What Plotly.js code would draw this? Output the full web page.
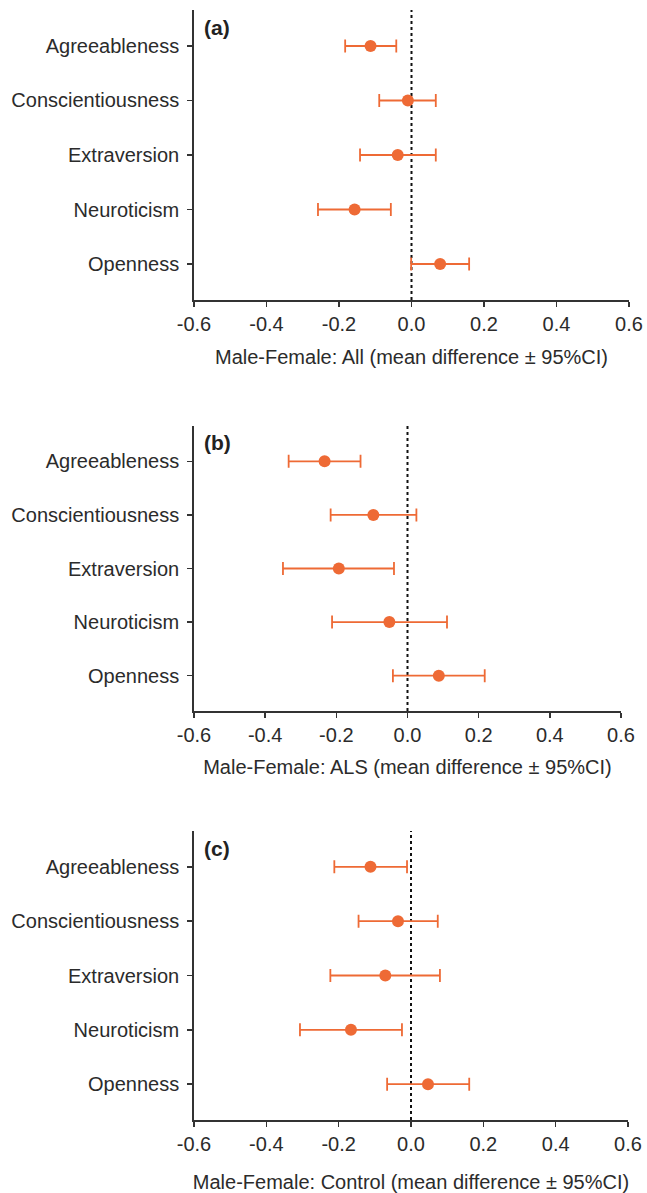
<!DOCTYPE html>
<html>
<head>
<meta charset="utf-8">
<script src="https://cdn.plot.ly/plotly-3.0.1.min.js"></script>
<style>
  html, body { margin: 0; padding: 0; background: #fff; }
  #chart { width: 647px; height: 1193px; }
</style>
</head>
<body>
<div id="chart"></div>
<script>
// ---- Data ----
const traits = ["Agreeableness", "Conscientiousness", "Extraversion", "Neuroticism", "Openness"];

const allMean  = [-0.113, -0.010, -0.038, -0.157, 0.079];
const allLow   = [-0.183, -0.089, -0.142, -0.258, -0.001];
const allHigh  = [-0.042, 0.067, 0.067, -0.057, 0.159];

const alsMean  = [-0.233, -0.096, -0.193, -0.051, 0.088];
const alsLow   = [-0.334, -0.216, -0.350, -0.212, -0.041];
const alsHigh  = [-0.132, 0.025, -0.038, 0.111, 0.217];

const ctlMean  = [-0.112, -0.036, -0.071, -0.166, 0.047];
const ctlLow   = [-0.212, -0.145, -0.223, -0.307, -0.066];
const ctlHigh  = [-0.011, 0.074, 0.080, -0.025, 0.161];

const xTicks = [-0.6, -0.4, -0.2, 0.0, 0.2, 0.4, 0.6];
const xTickText = ["-0.6", "-0.4", "-0.2", "0.0", "0.2", "0.4", "0.6"];

const panelLabels = ["(a)", "(b)", "(c)"];
const axisTitles = [
  "Male-Female: All (mean difference \u00b1 95%CI)",
  "Male-Female: ALS (mean difference \u00b1 95%CI)",
  "Male-Female: Control (mean difference \u00b1 95%CI)"
];

// ---- Styling ----
const ORANGE = "#EE6A35";
const AXIS = "#333333";
const TEXT = "#2b2b2b";
const FONT = "Liberation Sans, Arial, Helvetica, sans-serif";

const W = 647, H = 1193;
const panels = [
  {mean: allMean, low: allLow, high: allHigh, x0: 194, x1: 629, y0: 10, y1: 300, standoff: 16},
  {mean: alsMean, low: alsLow, high: alsHigh, x0: 194, x1: 621, y0: 426, y1: 711, standoff: 15},
  {mean: ctlMean, low: ctlLow, high: ctlHigh, x0: 194, x1: 628, y0: 831, y1: 1120, standoff: 21}
];

const data = [];
const layout = {
  width: W, height: H,
  margin: {l: 0, r: 0, t: 0, b: 0},
  paper_bgcolor: "#fff",
  plot_bgcolor: "#fff",
  showlegend: false,
  font: {family: FONT, size: 20, color: TEXT},
  shapes: [],
  annotations: []
};

panels.forEach((p, i) => {
  const n = i === 0 ? "" : String(i + 1);
  const xa = "x" + n, ya = "y" + n;
  const yIdx = traits.map((_, k) => k);
  data.push({
    type: "scatter",
    mode: "markers",
    x: p.mean,
    y: yIdx,
    xaxis: xa, yaxis: ya,
    marker: {color: ORANGE, size: 12},
    error_x: {
      type: "data",
      symmetric: false,
      array: p.high.map((h, k) => h - p.mean[k]),
      arrayminus: p.mean.map((m, k) => m - p.low[k]),
      color: ORANGE,
      thickness: 1.8,
      width: 6.5
    },
    hoverinfo: "skip"
  });

  layout["xaxis" + n] = {
    domain: [p.x0 / W, p.x1 / W],
    anchor: ya,
    range: [-0.6, 0.6],
    tickvals: xTicks,
    ticktext: xTickText,
    ticks: "outside",
    ticklen: 5,
    tickwidth: 1.5,
    tickcolor: AXIS,
    showline: true,
    linecolor: AXIS,
    linewidth: 1.8,
    showgrid: false,
    zeroline: false,
    tickfont: {family: FONT, size: 20, color: TEXT},
    title: {text: axisTitles[i], font: {family: FONT, size: 20, color: TEXT}, standoff: p.standoff},
    fixedrange: true
  };
  layout["yaxis" + n] = {
    domain: [1 - p.y1 / H, 1 - p.y0 / H],
    anchor: xa,
    range: [4.66, -0.66],
    tickvals: yIdx,
    ticktext: traits,
    ticks: "outside",
    ticklen: 5,
    tickwidth: 1.5,
    tickcolor: AXIS,
    showline: true,
    linecolor: AXIS,
    linewidth: 1.8,
    showgrid: false,
    zeroline: false,
    ticklabelstandoff: 4,
    tickfont: {family: FONT, size: 20, color: TEXT},
    fixedrange: true
  };
  layout.shapes.push({
    type: "line", xref: xa, yref: ya + " domain",
    x0: 0, x1: 0, y0: 0, y1: 1,
    line: {color: "#111", width: 2, dash: "dot"},
    layer: "below"
  });
  layout.annotations.push({
    text: "<b>" + panelLabels[i] + "</b>",
    xref: "paper", yref: "paper",
    x: (p.x0 + 8) / W, y: 1 - (p.y0 + 17) / H,
    xanchor: "left", yanchor: "middle",
    showarrow: false,
    font: {family: FONT, size: 21, color: "#222"}
  });
});

Plotly.newPlot("chart", data, layout, {staticPlot: true, displayModeBar: false});
</script>
</body>
</html>
